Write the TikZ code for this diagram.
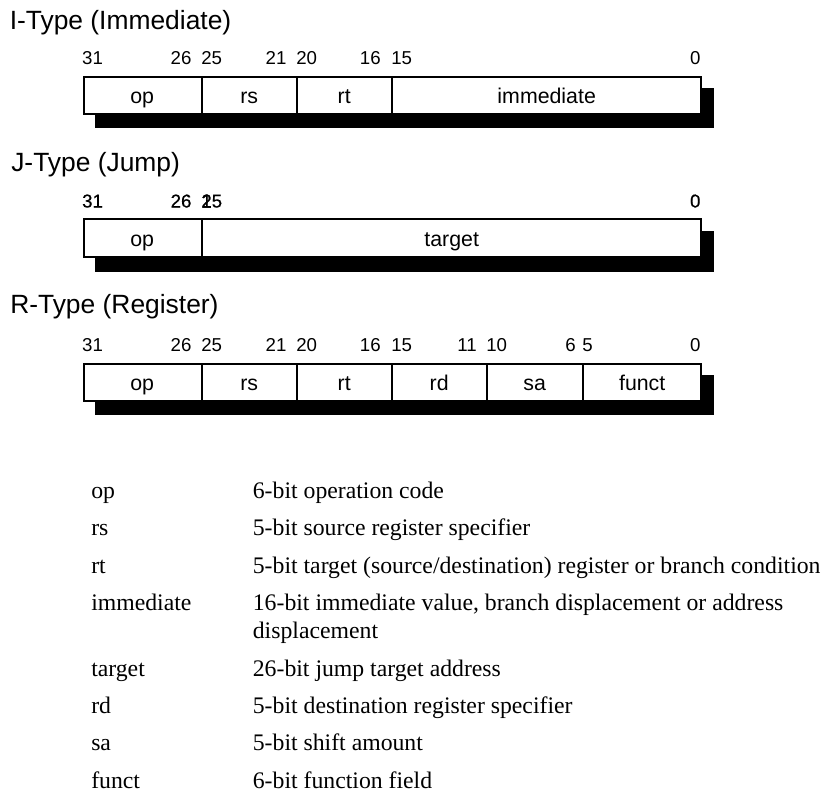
\documentclass[tikz,border=0pt]{standalone}
\usepackage{fontspec}
\setmainfont{Liberation Serif}
\newfontfamily\sansf{Liberation Sans}
\newfontfamily\sansfb[FakeBold=0.6]{Liberation Sans}
\newcommand\ttlfont{\sansf\fontsize{19.8pt}{24pt}\selectfont}
\newcommand\numfont{\sansf\fontsize{14pt}{17pt}\selectfont}
\newcommand\numbfont{\sansfb\fontsize{14pt}{17pt}\selectfont}
\newcommand\labfont{\sansf\fontsize{16pt}{19pt}\selectfont}
\newcommand\tabfont{\rmfamily\fontsize{17.8pt}{21pt}\selectfont}
\tikzset{
  fieldbox/.style={draw=black, line width=1.5pt, fill=white},
  divider/.style={draw=black, line width=1.5pt},
  shadowbox/.style={fill=black},
  ttl/.style={font=\ttlfont, anchor=base west, inner sep=0pt},
  numw/.style={font=\numfont, anchor=base west, inner sep=0pt},
  nume/.style={font=\numfont, anchor=base east, inner sep=0pt},
  numbw/.style={font=\numbfont, anchor=base west, inner sep=0pt},
  numbe/.style={font=\numbfont, anchor=base east, inner sep=0pt},
  flabel/.style={font=\labfont, anchor=base, inner sep=0pt},
  tab/.style={font=\tabfont, anchor=base west, inner sep=0pt}
}
\begin{document}
\begin{tikzpicture}[x=0.75pt,y=-0.75pt]
\useasboundingbox (0,0) rectangle (826,792);

% ---------------- I-Type ----------------
\node[ttl] (ititle) at (9.5,29.3) {I-Type (Immediate)};
\fill[shadowbox] (95,88.5) rectangle (714.3,128.5);
\draw[fieldbox] (83.5,77) rectangle (701,114.5);
\draw[divider] (201.7,77) -- (201.7,114.5);
\draw[divider] (296.7,77) -- (296.7,114.5);
\draw[divider] (391.7,77) -- (391.7,114.5);
\node[numw] (i31) at (81.9,64.5) {31};
\node[nume] (i26) at (191.7,64.5) {26};
\node[numw] (i25) at (201.1,64.5) {25};
\node[nume] (i21) at (286.7,64.5) {21};
\node[numw] (i20) at (296.1,64.5) {20};
\node[nume] (i16) at (381,64.5) {16};
\node[numw] (i15) at (391.1,64.5) {15};
\node[nume] (i0) at (700.7,64.5) {0};
\node[flabel] (iop) at (142.2,104) {op};
\node[flabel] (irs) at (249.2,104) {rs};
\node[flabel] (irt) at (344.2,104) {rt};
\node[flabel] (iimm) at (546.7,104) {immediate};

% ---------------- J-Type ----------------
\node[ttl] (jtitle) at (11,171.7) {J-Type (Jump)};
\fill[shadowbox] (95,231) rectangle (714.3,271.5);
\draw[fieldbox] (83.5,219.5) rectangle (701,257);
\draw[divider] (201.7,219.5) -- (201.7,257);
\node[numbw] (j31) at (81.9,207.5) {31};
\node[numbe] (j26) at (191.7,207.5) {26};
\node[numbw] (j25) at (201.1,207.5) {25};
\node[numbw] (j21) at (201.1,207.5) {1};
\node[numbe] (j0) at (700.7,207.5) {0};
\node[flabel] (jop) at (142.2,246.5) {op};
\node[flabel] (jtarget) at (451.7,246.5) {target};

% ---------------- R-Type ----------------
\node[ttl] (rtitle) at (10,313.3) {R-Type (Register)};
\fill[shadowbox] (95,375) rectangle (714.3,414.5);
\draw[fieldbox] (83.5,363.5) rectangle (701,401);
\draw[divider] (201.7,363.5) -- (201.7,401);
\draw[divider] (296.7,363.5) -- (296.7,401);
\draw[divider] (391.7,363.5) -- (391.7,401);
\draw[divider] (486.7,363.5) -- (486.7,401);
\draw[divider] (582.7,363.5) -- (582.7,401);
\node[numw] (r31) at (81.9,351) {31};
\node[nume] (r26) at (191.7,351) {26};
\node[numw] (r25) at (201.1,351) {25};
\node[nume] (r21) at (286.7,351) {21};
\node[numw] (r20) at (296.1,351) {20};
\node[nume] (r16) at (381,351) {16};
\node[numw] (r15) at (391.1,351) {15};
\node[nume] (r11) at (477,351) {11};
\node[numw] (r10) at (486.1,351) {10};
\node[nume] (r6) at (576,351) {6};
\node[numw] (r5) at (582.1,351) {5};
\node[nume] (r0) at (700.7,351) {0};
\node[flabel] (rop) at (142.2,390.5) {op};
\node[flabel] (rrs) at (249.2,390.5) {rs};
\node[flabel] (rrt) at (344.2,390.5) {rt};
\node[flabel] (rrd) at (439.2,390.5) {rd};
\node[flabel] (rsa) at (534.7,390.5) {sa};
\node[flabel] (rfunct) at (642.2,390.5) {funct};

% ---------------- Legend ----------------
\node[tab] (kop) at (91,498.5) {op};
\node[tab] (dop) at (252.6,498.5) {6-bit operation code};
\node[tab] (krs) at (91,535.8) {rs};
\node[tab] (drs) at (252.6,535.8) {5-bit source register specifier};
\node[tab] (krt) at (91,573) {rt};
\node[tab] (drt) at (252.6,573) {5-bit target (source/destination) register or branch condition};
\node[tab] (kimm) at (91,610.2) {immediate};
\node[tab] (dimm) at (252.6,610.2) {16-bit immediate value, branch displacement or address};
\node[tab] (dimm2) at (252.6,638) {displacement};
\node[tab] (ktarget) at (91,676) {target};
\node[tab] (dtarget) at (252.6,676) {26-bit jump target address};
\node[tab] (krd) at (91,713.3) {rd};
\node[tab] (drd) at (252.6,713.3) {5-bit destination register specifier};
\node[tab] (ksa) at (91,750.7) {sa};
\node[tab] (dsa) at (252.6,750.7) {5-bit shift amount};
\node[tab] (kfunct) at (91,788) {funct};
\node[tab] (dfunct) at (252.6,788) {6-bit function field};
\end{tikzpicture}
\end{document}
